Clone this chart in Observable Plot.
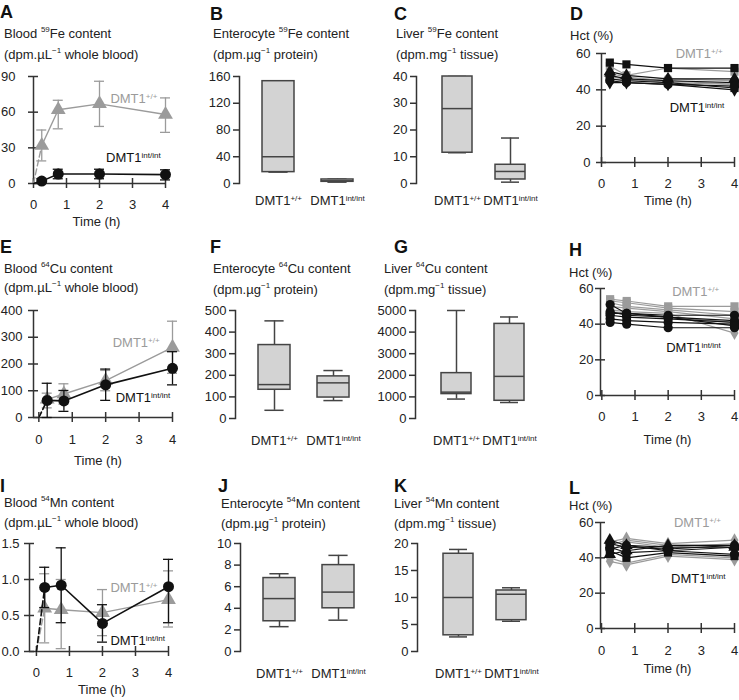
<!DOCTYPE html>
<html><head><meta charset="utf-8">
<script src="https://cdn.jsdelivr.net/npm/d3@7"></script>
<script src="https://cdn.jsdelivr.net/npm/@observablehq/plot@0.6"></script>
<style>
body{margin:0;background:#fff;}
#root{position:relative;width:739px;height:700px;font-family:"Liberation Sans",Arial,Helvetica,sans-serif;color:#222;overflow:hidden;background:#fff}
.lbl{position:absolute;font-weight:bold;font-size:18px;line-height:14px;color:#111}
.ttl{position:absolute;font-size:13px;line-height:13px;white-space:nowrap;color:#222}
.ttl sup{font-size:8px;line-height:0;vertical-align:6px}
#root svg{position:absolute;overflow:visible}
</style></head><body><div id="root"></div><script>
// ---------------- DATA ----------------
const times = [0, 0.25, 0.75, 2, 4];
const hctTimes = [0.25, 0.75, 2, 4];
const genotypes = ["DMT1+/+", "DMT1int/int"];

// Blood 59Fe (A)
const feWT = [0, 32, 62, 67, 58];
const feWTlo = [null, 19, 46, 48, 43];
const feWThi = [null, 45, 70, 86, 72];
const feInt = [0, 2, 8, 8, 7.5];
const feIntLo = [null, 0.5, 4, 4, 3];
const feIntHi = [null, 4, 12, 12, 11.5];
// Blood 64Cu (E)
const cuWT = [0, 68, 88, 138, 262];
const cuWTlo = [null, 36, 50, 100, 165];
const cuWThi = [null, 91, 126, 176, 360];
const cuInt = [0, 64, 62, 122, 184];
const cuIntLo = [null, 0, 23, 64, 122];
const cuIntHi = [null, 128, 101, 181, 246];
// Blood 54Mn (I)
const mnWT = [0, 0.60, 0.58, 0.54, 0.72];
const mnWTlo = [null, 0.12, 0.04, 0.22, 0.34];
const mnWThi = [null, 1.08, 1.0, 0.86, 1.12];
const mnInt = [0, 0.89, 0.92, 0.39, 0.90];
const mnIntLo = [null, 0.61, 0.40, 0.13, 0.40];
const mnIntHi = [null, 1.17, 1.44, 0.65, 1.28];

// Box plots: [min, q1, median, q3, max] for DMT1+/+ and DMT1int/int
const boxFeEnt = [[17, 17, 40, 153, 153], [2, 2.5, 4, 6, 6.5]];
const boxFeLiv = [[11.5, 11.5, 28, 40, 40], [0.5, 1.5, 4.5, 7, 17]];
const boxCuEnt = [[38, 133, 157, 340, 452], [83, 97, 165, 195, 222]];
const boxCuLiv = [[900, 1130, 1220, 2100, 5000], [740, 820, 1950, 4380, 4700]];
const boxMnEnt = [[2.3, 2.8, 4.9, 6.8, 7.2], [2.9, 4.0, 5.5, 8.0, 8.9]];
const boxMnLiv = [[2.7, 3.0, 10, 18.1, 18.9], [5.6, 5.8, 10.6, 11.3, 11.8]];

// Hematocrit per animal (values at hctTimes)
const hctFe = [
  {g: "wt", sym: "square", v: [53, 48, 52, 50]},
  {g: "wt", sym: "triangle", v: [49, 47, 45, 43]},
  {g: "wt", sym: "diamond", v: [47, 46, 44, 43]},
  {g: "wt", sym: "circle", v: [46, 45, 46, 45]},
  {g: "int", sym: "square", v: [55, 54, 52, 52]},
  {g: "int", sym: "triangle", v: [50, 48, 46, 46]},
  {g: "int", sym: "circle", v: [48, 46, 45, 44]},
  {g: "int", sym: "square", v: [46, 45, 44, 41]},
  {g: "int", sym: "diamond", v: [44, 44, 43, 40]},
  {g: "int", sym: "circle", v: [45, 44, 43, 42]}
];
const hctCu = [
  {g: "wt", sym: "square", v: [54, 53, 50, 50]},
  {g: "wt", sym: "square", v: [53, 52, 49, 47]},
  {g: "wt", sym: "square", v: [52, 50, 48, 45]},
  {g: "wt", sym: "diamond", v: [50, 49, 47, 43]},
  {g: "wt", sym: "diamond", v: [48, 47, 46, 35]},
  {g: "wt", sym: "square", v: [47, 46, 44, 41]},
  {g: "int", sym: "circle", v: [51, 46, 45, 45]},
  {g: "int", sym: "circle", v: [47, 45, 44, 42]},
  {g: "int", sym: "circle", v: [45, 44, 43, 41]},
  {g: "int", sym: "circle", v: [43, 42, 41, 40]},
  {g: "int", sym: "circle", v: [41, 40, 38, 38]},
  {g: "int", sym: "circle", v: [46, 46, 44, 39]}
];
const hctMn = [
  {g: "wt", sym: "diamond", v: [38, 36, 41, 39]},
  {g: "wt", sym: "diamond", v: [40, 37, 42, 40]},
  {g: "wt", sym: "diamond", v: [49, 51, 48, 50]},
  {g: "wt", sym: "diamond", v: [47, 50, 47, 47]},
  {g: "wt", sym: "diamond", v: [44, 49, 46, 48]},
  {g: "int", sym: "triangle", v: [50, 47, 46, 46]},
  {g: "int", sym: "circle", v: [48, 46, 45, 47]},
  {g: "int", sym: "square", v: [44, 40, 43, 41]},
  {g: "int", sym: "circle", v: [46, 43, 44, 46]},
  {g: "int", sym: "triangle", v: [42, 44, 47, 47]},
  {g: "int", sym: "circle", v: [45, 47, 44, 42]}
];

// ---------------- STYLE / HELPERS ----------------
const FONT = '"Liberation Sans", Arial, Helvetica, sans-serif';
const BLACK = "#111", GRAY = "#9b9b9b", AXIS = "#333", BOXS = "#444", BOXF = "#d3d3d3";
const FS = 13;
const root = document.getElementById("root");
const baseStyle = {background: "transparent", overflow: "visible", fontFamily: FONT, fontSize: FS + "px", color: "#222"};

function supify(svg) {
  svg.querySelectorAll("text, tspan").forEach(t => {
    if (t.childNodes.length !== 1 || t.firstChild.nodeType !== 3) return;
    const m = t.textContent.match(/^(.*DMT1)(\+\/\+|int\/int)$/);
    if (!m) return;
    t.textContent = m[1];
    const ts = document.createElementNS("http://www.w3.org/2000/svg", "tspan");
    ts.setAttribute("dy", "-0.5em");
    ts.setAttribute("font-size", "8");
    ts.textContent = m[2];
    t.appendChild(ts);
  });
}
function place(svg, left, top) {
  svg.style.left = left + "px";
  svg.style.top = top + "px";
  root.appendChild(svg);
  supify(svg);
}
function seriesRows(mean, lo, hi) {
  return times.map((t, i) => ({t, v: mean[i], lo: lo[i], hi: hi[i]}));
}
function bloodMarks(rows, color, sym, r, sw) {
  const pts = rows.filter(d => d.t > 0);
  return [
    Plot.line(rows.slice(0, 2), {x: "t", y: "v", stroke: color, strokeWidth: sw, strokeDasharray: "6,3"}),
    Plot.line(pts, {x: "t", y: "v", stroke: color, strokeWidth: sw}),
    Plot.ruleX(pts, {x: "t", y1: "lo", y2: "hi", stroke: color, strokeWidth: 1.3}),
    Plot.ruleY(pts, {y: "lo", x1: "t", x2: "t", insetLeft: -5, insetRight: -5, stroke: color, strokeWidth: 1.3}),
    Plot.ruleY(pts, {y: "hi", x1: "t", x2: "t", insetLeft: -5, insetRight: -5, stroke: color, strokeWidth: 1.3}),
    Plot.dot(pts, {x: "t", y: "v", symbol: sym, r, fill: color, stroke: "none"})
  ];
}
function hctMarks(series) {
  const rows = series.flatMap((s, k) => hctTimes.map((t, i) => ({id: k, g: s.g, sym: s.sym, t, v: s.v[i]})));
  const marks = [];
  for (const [g, color] of [["wt", GRAY], ["int", BLACK]]) {
    const rg = rows.filter(d => d.g === g);
    marks.push(Plot.line(rg, {x: "t", y: "v", z: "id", stroke: color, strokeWidth: 1.2}));
    for (const sym of ["square", "triangle", "diamond", "circle"]) {
      const rs = rg.filter(d => d.sym === sym);
      if (rs.length) marks.push(Plot.dot(rs, {x: "t", y: "v", symbol: sym, r: sym === "diamond" ? 4.2 : 4.6, fill: color, stroke: "none"}));
    }
  }
  return marks;
}
function annot(gx, gy, ix, iy) {
  return [
    Plot.text([{t: gx, v: gy, s: "DMT1+/+"}], {x: "t", y: "v", text: "s", textAnchor: "start", fill: GRAY, fontSize: FS}),
    Plot.text([{t: ix, v: iy, s: "DMT1int/int"}], {x: "t", y: "v", text: "s", textAnchor: "start", fill: BLACK, fontSize: FS})
  ];
}
function linePanel(p, marks) {
  const mt = 12, mb = 50;
  const ml = p.fx0 - p.svgLeft, mr = p.svgLeft + p.svgW - p.fx1;
  const height = mt + (p.fy1 - p.fy0) + mb;
  const xt = [0, 1, 2, 3, 4];
  const x0 = p.xdom[0], ya = p.ydom[0], yb = p.ydom[1];
  const svg = Plot.plot({
    width: p.svgW, height, marginLeft: ml, marginRight: mr, marginTop: mt, marginBottom: mb,
    x: {domain: p.xdom, label: null}, y: {domain: p.ydom, label: null},
    style: baseStyle,
    marks: [
      Plot.ruleX([x0], {y1: ya, y2: yb, stroke: AXIS, strokeWidth: 1.5}),
      Plot.ruleY([ya], {x1: x0, x2: 4, stroke: AXIS, strokeWidth: 1.5}),
      Plot.ruleY(p.yticks, {x1: x0, x2: x0, insetLeft: -5, insetRight: -5, stroke: AXIS, strokeWidth: 1.5}),
      Plot.ruleX(xt, {y1: ya, y2: ya, insetTop: -5, insetBottom: -5, stroke: AXIS, strokeWidth: 1.5}),
      Plot.axisY(p.yticks, {tickSize: 0, tickPadding: p.ypad, tickFormat: p.fmt || (d => String(d)), label: null}),
      Plot.axisX(xt, {tickSize: 0, tickPadding: p.xpad, tickFormat: d => String(d), label: null}),
      Plot.text(["Time (h)"], {frameAnchor: "bottom", lineAnchor: "middle", dy: p.tdy, dx: p.tdx || 0, text: d => d, fill: "#222", fontSize: FS}),
      ...marks
    ]
  });
  place(svg, p.svgLeft, p.fy0 - mt);
}
function boxPanel(p) {
  const mt = 12, mb = 40, ml = 45, mr = 10;
  const G = p.group === "L" ? {off: 23, step: 59, bw: 32} : {off: 26, step: 53, bw: 30};
  const po = G.off / G.step, pi = 1 - G.bw / G.step;
  const fw = G.step * (2 - pi + 2 * po);
  const height = mt + (p.fy1 - p.fy0) + mb;
  const rows = genotypes.map((g, i) => ({g, min: p.stats[i][0], q1: p.stats[i][1], med: p.stats[i][2], q3: p.stats[i][3], max: p.stats[i][4]}));
  const cap = G.bw * 0.2;
  const svg = Plot.plot({
    width: ml + fw + mr, height, marginLeft: ml, marginRight: mr, marginTop: mt, marginBottom: mb,
    x: {type: "band", domain: genotypes, paddingInner: pi, paddingOuter: po, label: null},
    y: {domain: p.ydom, label: null},
    style: baseStyle,
    marks: [
      Plot.frame({anchor: "left", stroke: AXIS, strokeWidth: 1.5}),
      Plot.axisY(p.yticks, {tickSize: 6, tickPadding: 3, stroke: AXIS, strokeWidth: 1.5, tickFormat: d => String(d), label: null}),
      Plot.axisX({tickSize: 0, tickPadding: p.xpad, label: null}),
      Plot.ruleX(rows, {x: "g", y1: "min", y2: "max", stroke: BOXS, strokeWidth: 1.5}),
      Plot.tickY(rows, {x: "g", y: "min", insetLeft: cap, insetRight: cap, stroke: BOXS, strokeWidth: 1.5}),
      Plot.tickY(rows, {x: "g", y: "max", insetLeft: cap, insetRight: cap, stroke: BOXS, strokeWidth: 1.5}),
      Plot.barY(rows, {x: "g", y1: "q1", y2: "q3", fill: BOXF, stroke: BOXS, strokeWidth: 1.5}),
      Plot.tickY(rows, {x: "g", y: "med", stroke: BOXS, strokeWidth: 1.5})
    ]
  });
  place(svg, p.fx0 - ml, p.fy0 - mt);
}

// ---------------- PANELS ----------------
linePanel({svgLeft: 0, svgW: 190, fx0: 33, fx1: 165, fy0: 76, fy1: 183, xdom: [0, 4], ydom: [0, 90], yticks: [0, 30, 60, 90], ypad: 18, xpad: 16, tdy: 38, tdx: -3},
  [...bloodMarks(seriesRows(feWT, feWTlo, feWThi), GRAY, "triangle", 5.5, 1.4),
   ...bloodMarks(seriesRows(feInt, feIntLo, feIntHi), BLACK, "circle", 5.5, 1.6),
   ...annot(2.33, 71, 2.2, 22)]);
linePanel({svgLeft: 560, svgW: 179, fx0: 601, fx1: 734, fy0: 53, fy1: 162, xdom: [0, 4], ydom: [0, 60], yticks: [0, 20, 40, 60], ypad: 11, xpad: 16, tdy: 38},
  [...hctMarks(hctFe), ...annot(2.23, 60, 2.05, 30)]);
linePanel({svgLeft: 0, svgW: 190, fx0: 33, fx1: 172, fy0: 310, fy1: 417, xdom: [-0.16, 4], ydom: [0, 400], yticks: [0, 100, 200, 300, 400], ypad: 11, xpad: 17, tdy: 43, tdx: -5},
  [...bloodMarks(seriesRows(cuWT, cuWTlo, cuWThi), GRAY, "triangle", 5.5, 1.4),
   ...bloodMarks(seriesRows(cuInt, cuIntLo, cuIntHi), BLACK, "circle", 5.5, 1.6),
   ...annot(2.21, 281, 2.3, 74)]);
linePanel({svgLeft: 560, svgW: 179, fx0: 600, fx1: 734, fy0: 288, fy1: 395, xdom: [-0.04, 4], ydom: [0, 60], yticks: [0, 20, 40, 60], ypad: 7, xpad: 16, tdy: 44},
  [...hctMarks(hctCu), ...annot(2.12, 58, 1.94, 27)]);
linePanel({svgLeft: 0, svgW: 190, fx0: 29, fx1: 168, fy0: 543, fy1: 651, xdom: [-0.21, 4], ydom: [0, 1.5], yticks: [0, 0.5, 1, 1.5], fmt: d3.format(".1f"), ypad: 10, xpad: 16, tdy: 38, tdx: 3},
  [...bloodMarks(seriesRows(mnWT, mnWTlo, mnWThi), GRAY, "triangle", 5.5, 1.4),
   ...bloodMarks(seriesRows(mnInt, mnIntLo, mnIntHi), BLACK, "circle", 5.5, 1.6),
   ...annot(2.24, 0.88, 2.24, 0.15)]);
linePanel({svgLeft: 560, svgW: 179, fx0: 600, fx1: 734, fy0: 522, fy1: 628, xdom: [-0.03, 4], ydom: [0, 60], yticks: [0, 20, 40, 60], ypad: 7, xpad: 17, tdy: 40},
  [...hctMarks(hctMn), ...annot(2.18, 60, 2.09, 28)]);

boxPanel({group: "L", fx0: 239, fy0: 76, fy1: 183, ydom: [0, 160], yticks: [0, 40, 80, 120, 160], stats: boxFeEnt, xpad: 12});
boxPanel({group: "R", fx0: 416, fy0: 76, fy1: 183, ydom: [0, 40], yticks: [0, 10, 20, 30, 40], stats: boxFeLiv, xpad: 12});
boxPanel({group: "L", fx0: 235, fy0: 310, fy1: 418, ydom: [0, 500], yticks: [0, 100, 200, 300, 400, 500], stats: boxCuEnt, xpad: 17});
boxPanel({group: "R", fx0: 415, fy0: 310, fy1: 418, ydom: [0, 5000], yticks: [0, 1000, 2000, 3000, 4000, 5000], stats: boxCuLiv, xpad: 17});
boxPanel({group: "L", fx0: 240, fy0: 543, fy1: 651, ydom: [0, 10], yticks: [0, 2, 4, 6, 8, 10], stats: boxMnEnt, xpad: 17});
boxPanel({group: "R", fx0: 417, fy0: 543, fy1: 651, ydom: [0, 20], yticks: [0, 5, 10, 15, 20], stats: boxMnLiv, xpad: 17});

// ---------------- LABELS & TITLES ----------------
const letters = [["A", 0, 5], ["B", 210, 7], ["C", 394, 7], ["D", 570, 7], ["E", 0, 240], ["F", 210, 240], ["G", 394, 240], ["H", 569, 243], ["I", 0, 479], ["J", 218, 479], ["K", 394, 479], ["L", 569, 481]];
for (const [s, x, y] of letters) {
  const d = document.createElement("div");
  d.className = "lbl"; d.textContent = s;
  d.style.left = x + "px"; d.style.top = y + "px";
  root.appendChild(d);
}
const titles = [
  [4, 33, "Blood <sup>59</sup>Fe content"], [4, 54, "(dpm.µL<sup>−1</sup> whole blood)"],
  [213, 33, "Enterocyte <sup>59</sup>Fe content"], [213, 54, "(dpm.µg<sup>−1</sup> protein)"],
  [396, 33, "Liver <sup>59</sup>Fe content"], [396, 54, "(dpm.mg<sup>−1</sup> tissue)"],
  [570, 35, "Hct (%)"],
  [4, 268, "Blood <sup>64</sup>Cu content"], [4, 287, "(dpm.µL<sup>−1</sup> whole blood)"],
  [213, 268, "Enterocyte <sup>64</sup>Cu content"], [213, 289, "(dpm.µg<sup>−1</sup> protein)"],
  [384, 268, "Liver <sup>64</sup>Cu content"], [384, 289, "(dpm.mg<sup>−1</sup> tissue)"],
  [569, 272, "Hct (%)"],
  [4, 502, "Blood <sup>54</sup>Mn content"], [4, 522, "(dpm.µL<sup>−1</sup> whole blood)"],
  [221, 503, "Enterocyte <sup>54</sup>Mn content"], [221, 523, "(dpm.µg<sup>−1</sup> protein)"],
  [394, 503, "Liver <sup>54</sup>Mn content"], [394, 523, "(dpm.mg<sup>−1</sup> tissue)"],
  [569, 505, "Hct (%)"]
];
for (const [x, y, h] of titles) {
  const d = document.createElement("div");
  d.className = "ttl"; d.innerHTML = h;
  d.style.left = x + "px"; d.style.top = (y - 6) + "px";
  root.appendChild(d);
}
</script></body></html>
